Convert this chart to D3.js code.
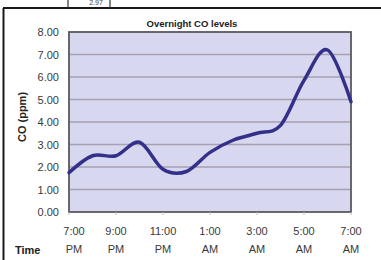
<!DOCTYPE html>
<html>
<head>
<meta charset="utf-8">
<script src="https://cdn.jsdelivr.net/npm/d3@7"></script>
<style>
  body { margin: 0; background: #fff; }
  svg { display: block; font-family: "Liberation Sans", Arial, sans-serif; }
</style>
</head>
<body>
<svg id="chart" width="381" height="260"></svg>
<script>
// hourly readings, 7 PM -> 7 AM
var hours = ["7PM", "8PM", "9PM", "10PM", "11PM", "12AM", "1AM", "2AM", "3AM", "4AM", "5AM", "6AM", "7AM"];
var coValues = [1.75, 2.5, 2.5, 3.1, 1.9, 1.8, 2.65, 3.2, 3.5, 3.85, 5.85, 7.2, 4.9];
var tickHours = ["7PM", "9PM", "11PM", "1AM", "3AM", "5AM", "7AM"];
var tickLabels = [["7:00", "PM"], ["9:00", "PM"], ["11:00", "PM"], ["1:00", "AM"], ["3:00", "AM"], ["5:00", "AM"], ["7:00", "AM"]];
var yTicks = [0, 1, 2, 3, 4, 5, 6, 7, 8];

var svg = d3.select("#chart");
// note: "top" is taken by window.top, so plot_* names
var plot_l = 69, plot_r = 351, plot_t = 32, plot_b = 212;

var x = d3.scalePoint().domain(hours).range([plot_l, plot_r]);
var y = d3.scaleLinear().domain([0, 8]).range([plot_b, plot_t]);

// page frame + bit of the table above
svg.append("line").attr("x1", 3).attr("x2", 381).attr("y1", 8).attr("y2", 8)
    .attr("stroke", "#1a1a1a").attr("stroke-width", 2);
svg.append("line").attr("x1", 3.5).attr("x2", 3.5).attr("y1", 8).attr("y2", 260)
    .attr("stroke", "#1a1a1a").attr("stroke-width", 2);
[68, 110].forEach(function (xx) {
    svg.append("line").attr("x1", xx).attr("x2", xx).attr("y1", 0).attr("y2", 8)
        .attr("stroke", "#333").attr("stroke-width", 1.2);
});
svg.append("text").attr("x", 96).attr("y", 5).attr("text-anchor", "middle")
    .attr("font-size", 7).attr("fill", "#444").text("2.97");

// plot area
svg.append("rect").attr("x", plot_l).attr("y", plot_t)
    .attr("width", plot_r - plot_l).attr("height", plot_b - plot_t)
    .attr("fill", "#d7d7ef");

svg.append("g").selectAll("line").data(yTicks.slice(1, -1)).enter().append("line")
    .attr("x1", plot_l).attr("x2", plot_r)
    .attr("y1", function (d) { return y(d); }).attr("y2", function (d) { return y(d); })
    .attr("stroke", "#a79fb2").attr("stroke-width", 1.3);

svg.append("rect").attr("x", plot_l).attr("y", plot_t)
    .attr("width", plot_r - plot_l).attr("height", plot_b - plot_t)
    .attr("fill", "none").attr("stroke", "#5c5860").attr("stroke-width", 1.8);

// y axis labels
var yAxis = d3.axisLeft(y).tickValues(yTicks).tickFormat(d3.format(".2f")).tickSize(0).tickPadding(10);
var gy = svg.append("g").attr("transform", "translate(" + plot_l + ",0)").call(yAxis);
gy.select(".domain").remove();
gy.selectAll("text").attr("font-size", 11).attr("fill", "#3a3a3a")
    .attr("font-family", "Liberation Sans, Arial, sans-serif");

// x axis: small ticks + two-line labels
svg.append("g").selectAll("line").data(tickHours).enter().append("line")
    .attr("x1", function (d) { return x(d); }).attr("x2", function (d) { return x(d); })
    .attr("y1", plot_b).attr("y2", plot_b + 3)
    .attr("stroke", "#bbb").attr("stroke-width", 1);

var xl = svg.append("g").selectAll("text").data(tickHours).enter().append("text")
    .attr("text-anchor", "middle").attr("font-size", 11).attr("fill", "#3a3a3a")
    .attr("transform", function (d, i) {
        return "translate(" + (x(d) + (i === 0 ? 5 : 0)) + ",0)";
    });
xl.append("tspan").attr("x", 0).attr("y", 235).text(function (d, i) { return tickLabels[i][0]; });
xl.append("tspan").attr("x", 0).attr("y", 253).text(function (d, i) { return tickLabels[i][1]; });

// titles
svg.append("text").attr("x", 192).attr("y", 27).attr("text-anchor", "middle")
    .attr("font-size", 9.5).attr("font-weight", "bold").attr("fill", "#222")
    .text("Overnight CO levels");
svg.append("text").attr("transform", "translate(26,117) rotate(-90)")
    .attr("text-anchor", "middle").attr("font-size", 11).attr("font-weight", "bold")
    .attr("fill", "#222").text("CO (ppm)");
svg.append("text").attr("x", 15).attr("y", 254).attr("font-size", 11)
    .attr("font-weight", "bold").attr("fill", "#222").text("Time");

// the smoothed CO line
var line = d3.line()
    .x(function (d, i) { return x(hours[i]); })
    .y(function (d) { return y(d); })
    .curve(d3.curveCardinal.tension(0));
svg.append("path").attr("d", line(coValues))
    .attr("fill", "none").attr("stroke", "#33308a").attr("stroke-width", 3.5)
    .attr("stroke-linecap", "round").attr("stroke-linejoin", "round");
</script>
</body>
</html>
